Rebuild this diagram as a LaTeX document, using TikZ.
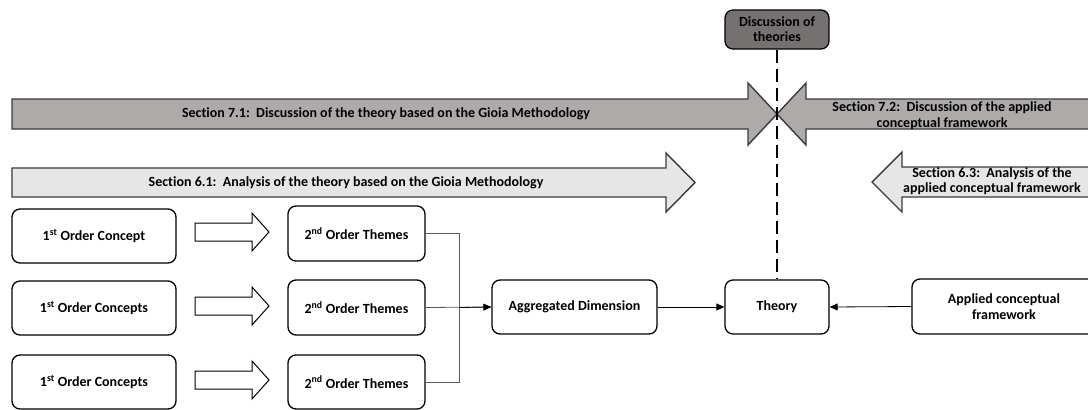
\documentclass[tikz,border=0pt]{standalone}
\usepackage{fontspec}
\setmainfont{Carlito}[Ligatures=CommonOff]
\usetikzlibrary{arrows.meta}
\definecolor{darkbox}{HTML}{767171}
\definecolor{midband}{HTML}{AEAAAA}
\definecolor{lightband}{HTML}{E7E6E6}
\definecolor{edgegray}{HTML}{3A3A3A}
\definecolor{linkgray}{HTML}{5A5A5A}
\begin{document}
\begin{tikzpicture}[x=1pt,y=-1pt,
  every node/.style={font=\fontsize{14}{16}\selectfont\bfseries, text=black},
  rbox/.style={draw=black, line width=1.3pt, rounded corners=8pt, fill=white,
    minimum height=54pt, align=center, inner sep=2pt},
  band/.style={draw=edgegray, line width=1.4pt, line join=miter},
  blockarrow/.style={draw=black, line width=1pt, fill=white},
  link/.style={draw=linkgray, line width=0.8pt},
  flow/.style={draw=black, line width=0.8pt, -{Triangle[length=8pt,width=7pt]}}]
\useasboundingbox (0,0) rectangle (1088,410);
\clip (0,0) rectangle (1088,410);

% section bands: discussion (upper) and analysis (lower)
\path[band, fill=midband] (12,99) -- (748,99) -- (748,83) -- (777,114) -- (748,145) -- (748,129) -- (12,129) -- cycle;
\path[band, fill=midband] (1100,99) -- (806,99) -- (806,83) -- (777,114) -- (806,145) -- (806,129) -- (1100,129) -- cycle;
\path[band, fill=lightband] (12,168) -- (666,168) -- (666,153) -- (695,182.5) -- (666,212) -- (666,197) -- (12,197) -- cycle;
\path[band, fill=lightband] (1100,167) -- (902,167) -- (902,152) -- (872,182) -- (902,212) -- (902,197) -- (1100,197) -- cycle;

\node (s71) at (386,114) {Section 7.1:\ \ Discussion of the theory based on the Gioia Methodology};
\node[align=center] (s72) at (942,115.5) {Section 7.2:\ \ Discussion of the applied\\conceptual framework};
\node (s61) at (346,182.5) {Section 6.1:\ \ Analysis of the theory based on the Gioia Methodology};
\node[align=center, font=\fontsize{14}{15}\selectfont\bfseries] (s63) at (992,181) {Section 6.3:\ \ Analysis of the\\applied conceptual framework};

% boxes
\node[rbox, fill=darkbox, minimum width=104pt, minimum height=39pt, font=\fontsize{14}{15}\selectfont\bfseries] (disc) at (777,29.5) {Discussion of\\theories};
\node[rbox, minimum width=164pt] (c1) at (94,236) {1\textsuperscript{st} Order Concept};
\node[rbox, minimum width=164pt] (c2) at (94,308) {1\textsuperscript{st} Order Concepts};
\node[rbox, minimum width=164pt] (c3) at (94,382) {1\textsuperscript{st} Order Concepts};
\node[rbox, minimum width=137pt, minimum height=55pt] (t1) at (356.5,233.5) {2\textsuperscript{nd} Order Themes};
\node[rbox, minimum width=137pt, minimum height=55pt] (t2) at (356.5,307.5) {2\textsuperscript{nd} Order Themes};
\node[rbox, minimum width=137pt, minimum height=54pt] (t3) at (356.5,382) {2\textsuperscript{nd} Order Themes};
\node[rbox, minimum width=165pt] (agg) at (574.5,307) {Aggregated Dimension};
\node[rbox, minimum width=104pt] (theory) at (777,307) {Theory};
\node[rbox, minimum width=184pt, minimum height=55pt] (applied) at (1004,306.5) {Applied conceptual\\framework};

% dashed link from the discussion box down to the theory
\draw[line width=2pt, dash pattern=on 13pt off 6pt] (disc.south) -- (theory.north);

% hollow block arrows from concepts to themes
\foreach \yc in {232,306,380}{
  \path[blockarrow] (195,\yc-9) -- (252,\yc-9) -- (252,\yc-19) -- (269,\yc) -- (252,\yc+19) -- (252,\yc+9) -- (195,\yc+9) -- cycle;
}

% connectors
\coordinate (j1) at (459,233.5);
\coordinate (j3) at (459,382);
\draw[link] (t1.east) -- (j1) -- (j3) -- (t3.east);
\draw[link] (t2.east) -- (agg.west);
\draw[flow] (t2.east -| j1) -- (agg.west);
\draw[flow] (agg.east) -- (theory.west);
\draw[flow] (applied.west) -- (theory.east);
\end{tikzpicture}
\end{document}
